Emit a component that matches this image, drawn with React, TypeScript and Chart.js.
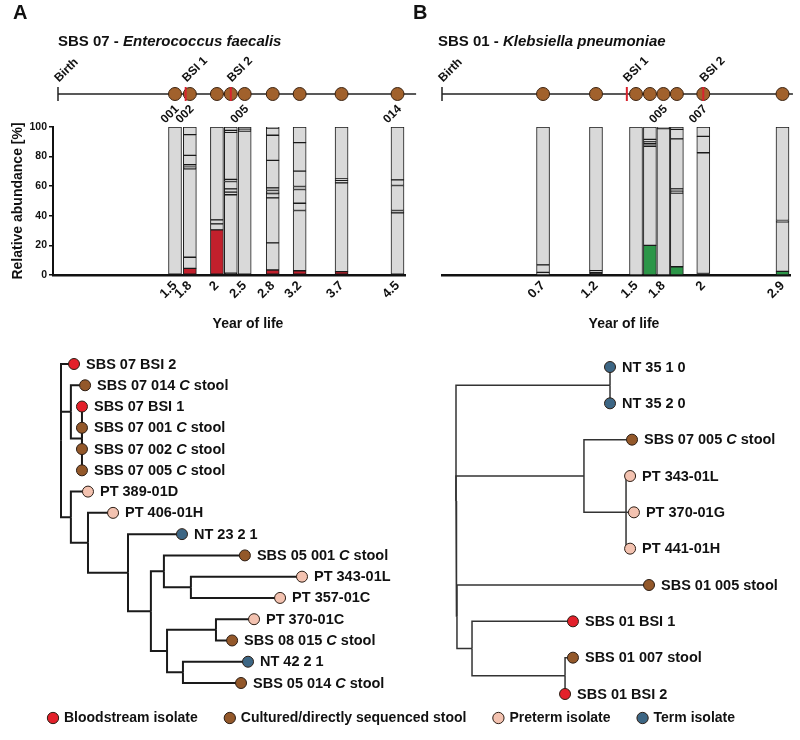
import React, { useEffect, useRef } from "react";
import { Chart, registerables } from "chart.js";

Chart.register(...registerables);

const FONT = "'Liberation Sans', Arial, Helvetica, sans-serif";
const INK = "#111111";
Chart.defaults.font.family = FONT;
Chart.defaults.color = INK;

// ---------------- Panel A : SBS 07 - Enterococcus faecalis ----------------
const A_LETTER = "A";
const A_PATIENT = "SBS 07";
const A_SPECIES = "Enterococcus faecalis";
const A_X_RANGE = [-0.36, 25];
const A_SAMPLE_POS = [8.43, 9.5, 11.45, 12.45, 13.45, 15.47, 17.41, 20.43, 24.46];
const A_SAMPLE_IDS = ["001", "002", "", "", "005", "", "", "", "014"];
const A_YEAR_TICKS = ["1.5", "1.8", "2", "", "2.5", "2.8", "3.2", "3.7", "4.5"];
const A_BSI_POS = [9.2, 12.45];
const A_BSI_LABELS = ["BSI 1", "BSI 2"];
const A_TIMELINE_END = 25.8;
const A_TARGET = [0, 4.5, 30.5, 0, 0, 3.4, 2.9, 2.3, 0];
const A_MINOR = [0, 0, 0, 1.2, 0, 0, 0, 0, 0];
const A_TAXA_CUTS = [
  [],
  [12, 71.8, 72.9, 74.5, 80.8, 94.8],
  [34.5, 37.2],
  [54.2, 56, 58.2, 63.2, 64.6, 96.4, 97.7],
  [97.3, 98.5],
  [21.7, 52.1, 55, 56, 57.1, 58.9, 77.4, 94.4, 99.3],
  [43.6, 48.5, 57.8, 59.8, 70.2, 89.4],
  [62.3, 63.9, 65],
  [42, 43.6, 60.5, 64.3],
];

// ---------------- Panel B : SBS 01 - Klebsiella pneumoniae ----------------
const B_LETTER = "B";
const B_PATIENT = "SBS 01";
const B_SPECIES = "Klebsiella pneumoniae";
const B_X_RANGE = [0, 25.04];
const B_SAMPLE_POS = [7.27, 11.08, 13.96, 14.96, 15.93, 16.9, 18.8, 24.5];
const B_SAMPLE_IDS = ["", "", "", "", "005", "", "007", ""];
const B_YEAR_TICKS = ["0.7", "1.2", "1.5", "", "1.8", "", "2", "2.9"];
const B_BSI_POS = [13.3, 18.8];
const B_BSI_LABELS = ["BSI 1", "BSI 2"];
const B_TIMELINE_END = 25.25;
const B_TARGET = [0, 0, 0, 20, 0, 5.6, 0, 2.5];
const B_MINOR = [0, 1.5, 0, 0, 0, 0, 1, 0];
const B_TAXA_CUTS = [
  [1.8, 6.8],
  [3],
  [],
  [87, 88.7, 90, 91.6],
  [98.9],
  [55.3, 56.7, 58.2, 92, 98.4],
  [82.6, 93.7],
  [36, 36.8],
];

// ---------------- Trees ----------------
const TREE_A_TIPS = [
  "SBS 07 BSI 2", "SBS 07 014 C stool", "SBS 07 BSI 1", "SBS 07 001 C stool",
  "SBS 07 002 C stool", "SBS 07 005 C stool", "PT 389-01D", "PT 406-01H",
  "NT 23 2 1", "SBS 05 001 C stool", "PT 343-01L", "PT 357-01C",
  "PT 370-01C", "SBS 08 015 C stool", "NT 42 2 1", "SBS 05 014 C stool",
];
const TREE_A_TYPES = ["bsi", "stool", "bsi", "stool", "stool", "stool", "pre", "pre", "term", "stool", "pre", "pre", "pre", "stool", "term", "stool"];
const TREE_A_TIP_DEPTH = [0.54, 1.0, 0.87, 0.87, 0.87, 0.87, 1.12, 2.16, 5.02, 7.63, 10.0, 9.09, 8.01, 7.1, 7.76, 7.47];
const TREE_A_TIP_PARENT = ["R", "n2", "n3", "n3", "n3", "n3", "n4", "n5", "n6", "n8", "n10", "n10", "n11", "n11", "n12", "n12"];
const TREE_A_NODES = ["R", "n2", "n3", "n4", "n5", "n6", "n7", "n8", "n9", "n10", "n11", "n12"];
const TREE_A_NODE_DEPTH = [0, 0.41, 0.87, 0.41, 1.12, 2.78, 3.73, 4.27, 4.4, 5.39, 6.43, 5.06];
const TREE_A_NODE_PARENT = [null, "R", "n2", "R", "n4", "n5", "n6", "n7", "n7", "n8", "n9", "n9"];

const TREE_B_TIPS = [
  "NT 35 1 0", "NT 35 2 0", "SBS 07 005 C stool", "PT 343-01L", "PT 370-01G",
  "PT 441-01H", "SBS 01 005 stool", "SBS 01 BSI 1", "SBS 01 007 stool", "SBS 01 BSI 2",
];
const TREE_B_TYPES = ["term", "term", "stool", "pre", "pre", "pre", "stool", "bsi", "stool", "bsi"];
const TREE_B_TIP_DEPTH = [7.98, 7.98, 9.12, 9.02, 9.22, 9.02, 10.0, 6.06, 6.06, 5.65];
const TREE_B_TIP_PARENT = ["na", "na", "nb", "nf", "nf", "nf", "nc", "nd", "ne", "ne"];
const TREE_B_NODES = ["R", "na", "nb", "nf", "nc", "nd", "ne"];
const TREE_B_NODE_DEPTH = [0, 7.98, 6.63, 8.81, 0.05, 0.83, 5.65];
const TREE_B_NODE_PARENT = [null, "R", "R", "nb", "R", "nc", "nd"];

// ---------------- Legend ----------------
const LEGEND_TYPES = ["bsi", "stool", "pre", "term"];
const LEGEND_LABELS = ["Bloodstream isolate", "Cultured/directly sequenced stool", "Preterm isolate", "Term isolate"];

// ---------------- styles ----------------
const TYPE_COLOR: Record<string, string> = { bsi: "#e3202a", stool: "#93582a", pre: "#f3c2b0", term: "#3d6684" };
const TIMELINE_BROWN = "#a1612c";
const BSI_RED = "#d8232e";
const BAR_GRAY = "#d9d9d9";
const BAR_DARK = "#161616";
const A_TARGET_COLOR = "#c2202c";
const B_TARGET_COLOR = "#2c9648";

type Part = { text: string; italic: boolean };

function drawRich(ctx: CanvasRenderingContext2D, x: number, y: number, parts: Part[], size: number, align = "left") {
  const fonts = parts.map((p) => `${p.italic ? "italic " : ""}bold ${size}px ${FONT}`);
  const widths = parts.map((p, i) => {
    ctx.font = fonts[i];
    return ctx.measureText(p.text).width;
  });
  const total = widths.reduce((a, b) => a + b, 0);
  let cx = align === "left" ? x : align === "center" ? x - total / 2 : x - total;
  ctx.textAlign = "left";
  parts.forEach((p, i) => {
    ctx.font = fonts[i];
    ctx.fillText(p.text, cx, y);
    cx += widths[i];
  });
}

function labelParts(label: string): Part[] {
  const toks = label.split(" ");
  return toks.map((t, i) => ({ text: t + (i < toks.length - 1 ? " " : ""), italic: t === "C" }));
}

type Panel = {
  letter: string; patient: string; species: string; xr: number[]; pos: number[]; ids: string[];
  ticks: string[]; bsi: number[]; bsiLabels: string[]; end: number; target: number[]; minor: number[];
  cuts: number[][]; targetColor: string;
};

const PANEL_A: Panel = {
  letter: A_LETTER, patient: A_PATIENT, species: A_SPECIES, xr: A_X_RANGE, pos: A_SAMPLE_POS, ids: A_SAMPLE_IDS,
  ticks: A_YEAR_TICKS, bsi: A_BSI_POS, bsiLabels: A_BSI_LABELS, end: A_TIMELINE_END, target: A_TARGET,
  minor: A_MINOR, cuts: A_TAXA_CUTS, targetColor: A_TARGET_COLOR,
};
const PANEL_B: Panel = {
  letter: B_LETTER, patient: B_PATIENT, species: B_SPECIES, xr: B_X_RANGE, pos: B_SAMPLE_POS, ids: B_SAMPLE_IDS,
  ticks: B_YEAR_TICKS, bsi: B_BSI_POS, bsiLabels: B_BSI_LABELS, end: B_TIMELINE_END, target: B_TARGET,
  minor: B_MINOR, cuts: B_TAXA_CUTS, targetColor: B_TARGET_COLOR,
};

function timelineConfig(p: Panel, padLeft: number, padRight: number, letterX: number, titleX: number): any {
  const lineStyle = { showLine: true, borderColor: "#222", borderWidth: 1.5, pointRadius: 0, clip: false };
  return {
    type: "scatter",
    data: {
      datasets: [
        { ...lineStyle, data: [{ x: 0, y: 0 }, { x: p.end, y: 0 }], order: 4 },
        { ...lineStyle, data: [{ x: 0, y: -0.5 }, { x: 0, y: 0.5 }], order: 4 },
        {
          data: p.pos.map((x) => ({ x, y: 0 })), pointRadius: 6.5, pointBackgroundColor: TIMELINE_BROWN,
          pointBorderColor: "#3a2210", pointBorderWidth: 1, clip: false, order: 2,
        },
        ...p.bsi.map((x) => ({ ...lineStyle, borderColor: BSI_RED, borderWidth: 2, data: [{ x, y: -0.5 }, { x, y: 0.5 }], order: 1 })),
      ],
    },
    options: {
      responsive: false, animation: false, events: [],
      layout: { padding: { left: padLeft, right: padRight, top: 80, bottom: 22 } },
      scales: {
        x: { type: "linear", display: false, min: p.xr[0], max: p.xr[1] },
        y: { type: "linear", display: false, min: -1, max: 1 },
      },
      plugins: { legend: { display: false }, tooltip: { enabled: false } },
    },
    plugins: [{
      id: "timelineText",
      afterDraw(chart: any) {
        const ctx: CanvasRenderingContext2D = chart.ctx;
        const xs = chart.scales.x;
        const y0 = chart.scales.y.getPixelForValue(0);
        ctx.save();
        ctx.fillStyle = INK;
        ctx.textBaseline = "alphabetic";
        ctx.font = `bold 20px ${FONT}`;
        ctx.textAlign = "left";
        ctx.fillText(p.letter, letterX, 19);
        drawRich(ctx, titleX, 46, [{ text: p.patient + " - ", italic: false }, { text: p.species, italic: true }], 15);
        ctx.font = `bold 12px ${FONT}`;
        const above = [{ label: "Birth", v: 0 }, ...p.bsi.map((v, i) => ({ label: p.bsiLabels[i], v }))];
        above.forEach((a) => {
          ctx.save();
          ctx.translate(xs.getPixelForValue(a.v) + 1, y0 - 11.5);
          ctx.rotate(-Math.PI / 4);
          ctx.textAlign = "left";
          ctx.fillText(a.label, 0, 0);
          ctx.restore();
        });
        p.ids.forEach((id, i) => {
          if (!id) return;
          ctx.save();
          ctx.translate(xs.getPixelForValue(p.pos[i]) + 4.5, y0 + 15.5);
          ctx.rotate(-Math.PI / 4);
          ctx.textAlign = "right";
          ctx.fillText(id, 0, 0);
          ctx.restore();
        });
        ctx.restore();
      },
    }],
  };
}

function barDatasets(p: Panel) {
  const segs = p.target.map((t, i) => {
    const s: { lo: number; hi: number; color: string }[] = [];
    let lo = 0;
    if (t > 0) { s.push({ lo: 0, hi: t, color: p.targetColor }); lo = t; }
    if (p.minor[i] > 0) { s.push({ lo, hi: lo + p.minor[i], color: BAR_DARK }); lo += p.minor[i]; }
    p.cuts[i].forEach((c) => { if (c > lo) { s.push({ lo, hi: c, color: BAR_GRAY }); lo = c; } });
    s.push({ lo, hi: 100, color: BAR_GRAY });
    return s;
  });
  const layers = Math.max(...segs.map((s) => s.length));
  const out: any[] = [];
  for (let k = 0; k < layers; k++) {
    const data: any[] = [];
    const colors: string[] = [];
    segs.forEach((s, i) => {
      if (s[k]) { data.push({ x: p.pos[i], y: [s[k].lo, s[k].hi] }); colors.push(s[k].color); }
    });
    out.push({
      data, backgroundColor: colors, borderColor: "#1a1a1a", borderWidth: 1, borderSkipped: false,
      barThickness: 13, grouped: false,
    });
  }
  return out;
}

function barsConfig(p: Panel, showY: boolean, padLeft: number, padRight: number, titleX: number): any {
  return {
    type: "bar",
    data: { datasets: barDatasets(p) },
    options: {
      responsive: false, animation: false, events: [],
      layout: { padding: { left: padLeft, right: padRight, top: 12, bottom: 0 } },
      scales: {
        x: {
          type: "linear", min: p.xr[0], max: p.xr[1], offset: false,
          grid: { display: false, drawTicks: false },
          border: { display: true, width: 2.5, color: INK },
          ticks: {
            autoSkip: false, maxRotation: 45, minRotation: 45, padding: 3, color: INK,
            font: { size: 13, weight: "bold" },
            callback: (_v: any, i: number) => p.ticks[i] ?? "",
          },
          afterBuildTicks: (s: any) => { s.ticks = p.pos.map((v) => ({ value: v })); },
          afterFit: (s: any) => { s.height = 65; },
        },
        y: showY ? {
          min: 0, max: 100,
          ticks: { stepSize: 20, padding: 2, color: INK, font: { size: 10.5, weight: "bold" } },
          grid: { drawOnChartArea: false, drawTicks: true, tickLength: 4, color: INK, lineWidth: 1.5 },
          border: { display: true, width: 2, color: INK },
          title: {
            display: true, text: "Relative abundance [%]", color: INK,
            font: { size: 14, weight: "bold" }, padding: { top: 10, bottom: 0 },
          },
          afterFit: (s: any) => { s.width = 53; },
        } : { display: false, min: 0, max: 100 },
      },
      plugins: { legend: { display: false }, tooltip: { enabled: false } },
    },
    plugins: [{
      id: "xTitle",
      afterDraw(chart: any) {
        const ctx: CanvasRenderingContext2D = chart.ctx;
        ctx.save();
        ctx.fillStyle = INK;
        ctx.textBaseline = "alphabetic";
        ctx.font = `bold 14px ${FONT}`;
        ctx.textAlign = "center";
        ctx.fillText("Year of life", titleX, 212.5);
        ctx.restore();
      },
    }],
  };
}

type Tree = {
  tips: string[]; types: string[]; tipDepth: number[]; tipParent: string[];
  nodes: string[]; nodeDepth: number[]; nodeParent: (string | null)[];
};

const TREE_A: Tree = {
  tips: TREE_A_TIPS, types: TREE_A_TYPES, tipDepth: TREE_A_TIP_DEPTH, tipParent: TREE_A_TIP_PARENT,
  nodes: TREE_A_NODES, nodeDepth: TREE_A_NODE_DEPTH, nodeParent: TREE_A_NODE_PARENT,
};
const TREE_B: Tree = {
  tips: TREE_B_TIPS, types: TREE_B_TYPES, tipDepth: TREE_B_TIP_DEPTH, tipParent: TREE_B_TIP_PARENT,
  nodes: TREE_B_NODES, nodeDepth: TREE_B_NODE_DEPTH, nodeParent: TREE_B_NODE_PARENT,
};

function treeConfig(t: Tree, xMax: number, padding: any, lineColor: string, lineWidth: number): any {
  const info: Record<string, { depth: number; parent: string | null; y: number }> = {};
  t.nodes.forEach((id, i) => { info[id] = { depth: t.nodeDepth[i], parent: t.nodeParent[i], y: NaN }; });
  t.tips.forEach((_, i) => { info["tip" + i] = { depth: t.tipDepth[i], parent: t.tipParent[i], y: i }; });
  const kids: Record<string, string[]> = {};
  Object.entries(info).forEach(([id, v]) => { if (v.parent) (kids[v.parent] = kids[v.parent] || []).push(id); });
  const yOf = (id: string): number => {
    const v = info[id];
    if (!isNaN(v.y)) return v.y;
    const ys = kids[id].map(yOf);
    v.y = (Math.min(...ys) + Math.max(...ys)) / 2;
    return v.y;
  };
  Object.keys(info).forEach(yOf);
  const edges = Object.values(info).filter((v) => v.parent).map((v) => {
    const p = info[v.parent as string];
    return {
      data: [{ x: p.depth, y: p.y }, { x: p.depth, y: v.y }, { x: v.depth, y: v.y }],
      showLine: true, borderColor: lineColor, borderWidth: lineWidth, pointRadius: 0, clip: false,
      order: 2, tension: 0, borderJoinStyle: "miter",
    };
  });
  const tipsDs = {
    data: t.tips.map((_, i) => ({ x: t.tipDepth[i], y: i })),
    pointRadius: 5.5, pointBackgroundColor: t.types.map((k) => TYPE_COLOR[k]),
    pointBorderColor: "#2b1d14", pointBorderWidth: 1, clip: false, order: 1,
  };
  return {
    type: "scatter",
    data: { datasets: [...edges, tipsDs] },
    options: {
      responsive: false, animation: false, events: [],
      layout: { padding },
      scales: {
        x: { type: "linear", display: false, min: 0, max: xMax },
        y: { type: "linear", display: false, min: 0, max: t.tips.length - 1, reverse: true },
      },
      plugins: { legend: { display: false }, tooltip: { enabled: false } },
    },
    plugins: [{
      id: "tipLabels",
      afterDraw(chart: any) {
        const ctx: CanvasRenderingContext2D = chart.ctx;
        const xs = chart.scales.x;
        const ys = chart.scales.y;
        ctx.save();
        ctx.fillStyle = INK;
        ctx.textBaseline = "middle";
        t.tips.forEach((label, i) => {
          drawRich(ctx, xs.getPixelForValue(t.tipDepth[i]) + 12, ys.getPixelForValue(i) + 0.5, labelParts(label), 14.5);
        });
        ctx.restore();
      },
    }],
  };
}

function legendConfig(): any {
  return {
    type: "scatter",
    data: {
      datasets: LEGEND_TYPES.map((k, i) => ({
        label: LEGEND_LABELS[i], data: [], backgroundColor: TYPE_COLOR[k], borderColor: "#2b1d14", pointStyle: "circle",
      })),
    },
    options: {
      responsive: false, animation: false, events: [],
      scales: { x: { display: false }, y: { display: false } },
      plugins: {
        tooltip: { enabled: false },
        legend: {
          display: true, position: "top", maxHeight: 90,
          labels: {
            usePointStyle: true, boxWidth: 8, boxHeight: 8, padding: 28, color: INK,
            font: { size: 14, weight: "bold" },
            generateLabels: (chart: any) => chart.data.datasets.map((d: any, i: number) => ({
              text: d.label, fillStyle: d.backgroundColor, strokeStyle: d.borderColor, lineWidth: 1,
              pointStyle: "circle", hidden: false, datasetIndex: i, fontColor: INK,
            })),
          },
        },
      },
    },
  };
}

function ChartCanvas({ left, top, width, height, make }: { left: number; top: number; width: number; height: number; make: () => any }) {
  const ref = useRef<HTMLCanvasElement>(null);
  useEffect(() => {
    const chart = new Chart(ref.current as HTMLCanvasElement, make());
    return () => chart.destroy();
  }, []);
  return (
    <canvas
      ref={ref}
      width={width}
      height={height}
      style={{ position: "absolute", left, top, width, height }}
    />
  );
}

export default function App() {
  return (
    <div style={{ position: "absolute", left: 0, top: 0, width: 800, height: 740, background: "#ffffff", overflow: "hidden" }}>
      <ChartCanvas left={0} top={115} width={420} height={225} make={() => barsConfig(PANEL_A, true, 0, 15, 248)} />
      <ChartCanvas left={410} top={115} width={390} height={225} make={() => barsConfig(PANEL_B, false, 32, 10, 214)} />
      <ChartCanvas left={0} top={0} width={420} height={130} make={() => timelineConfig(PANEL_A, 53, 15, 13, 58)} />
      <ChartCanvas left={410} top={0} width={390} height={130} make={() => timelineConfig(PANEL_B, 32, 10, 3, 28)} />
      <ChartCanvas left={0} top={340} width={410} height={365} make={() => treeConfig(TREE_A, 13, { left: 61, right: 35.7, top: 24, bottom: 22 }, "#1a1a1a", 2)} />
      <ChartCanvas left={410} top={340} width={390} height={365} make={() => treeConfig(TREE_B, 12, { left: 46, right: 112.4, top: 27, bottom: 11 }, "#333333", 1.5)} />
      <ChartCanvas left={0} top={683} width={784} height={57} make={legendConfig} />
    </div>
  );
}
